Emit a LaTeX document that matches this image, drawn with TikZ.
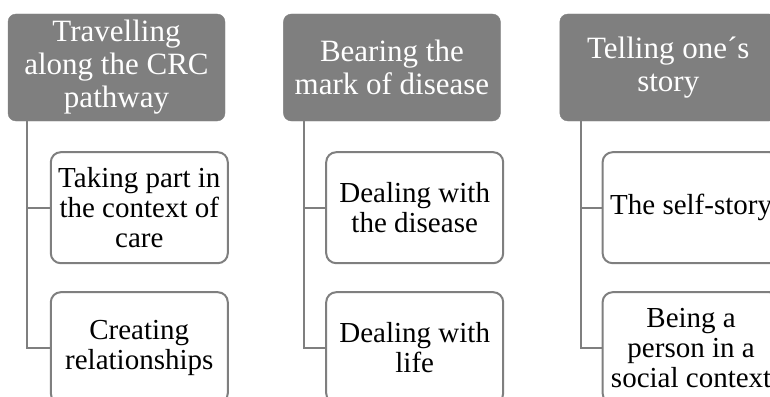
\documentclass[tikz,border=0pt]{standalone}
\usepackage{fontspec}
\setmainfont{Liberation Serif}
\usetikzlibrary{positioning}
\definecolor{boxgray}{RGB}{127,127,127}

\begin{document}
\begin{tikzpicture}[
                    x=1pt, y=-1pt,
                    head/.style={draw=boxgray, fill=boxgray, rounded corners=8pt,
                      minimum width=217pt, minimum height=107pt, inner sep=0pt,
                      align=center, text=white, font=\fontsize{31}{33}\selectfont},
                    sub/.style={draw=boxgray, line width=2pt, fill=white, rounded corners=10pt,
                      minimum width=177pt, minimum height=111pt, inner sep=0pt,
                      align=center, font=\fontsize{29}{30}\selectfont},
                    link/.style={draw=boxgray, line width=2pt}
                ]
                  \useasboundingbox (0,0) rectangle (770,396);
                  % themes
                  \node[head] (travel) at (116.5,67.5) {Travelling\\along the CRC\\pathway};
                  \node[head, right=58pt of travel] (bearing) {Bearing the\\mark of disease};
                  \node[head, right=59pt of bearing] (telling) {Telling one´s\\story};
                  % subthemes
                  \node[sub, below right=30pt and 42pt of travel.south west] (taking) {Taking part in\\the context of\\care};
                  \node[sub, below=27pt of taking] (creating) {Creating\\relationships};
                  \node[sub, below right=30pt and 42pt of bearing.south west] (disease) {Dealing with\\the disease};
                  \node[sub, below=27pt of disease] (life) {Dealing with\\life};
                  \node[sub, below right=30pt and 42pt of telling.south west] (self) {The self-story};
                  \node[sub, below=27pt of self] (person) {Being a\\person in a\\social context};
                  % connectors
                  \draw[link] ([xshift=19pt]travel.south west) |- (taking.west);
                  \draw[link] ([xshift=19pt]travel.south west) |- (creating.west);
                  \draw[link] ([xshift=21pt]bearing.south west) |- (disease.west);
                  \draw[link] ([xshift=21pt]bearing.south west) |- (life.west);
                  \draw[link] ([xshift=21pt]telling.south west) |- (self.west);
                  \draw[link] ([xshift=21pt]telling.south west) |- (person.west);
                \end{tikzpicture}
\end{document}
